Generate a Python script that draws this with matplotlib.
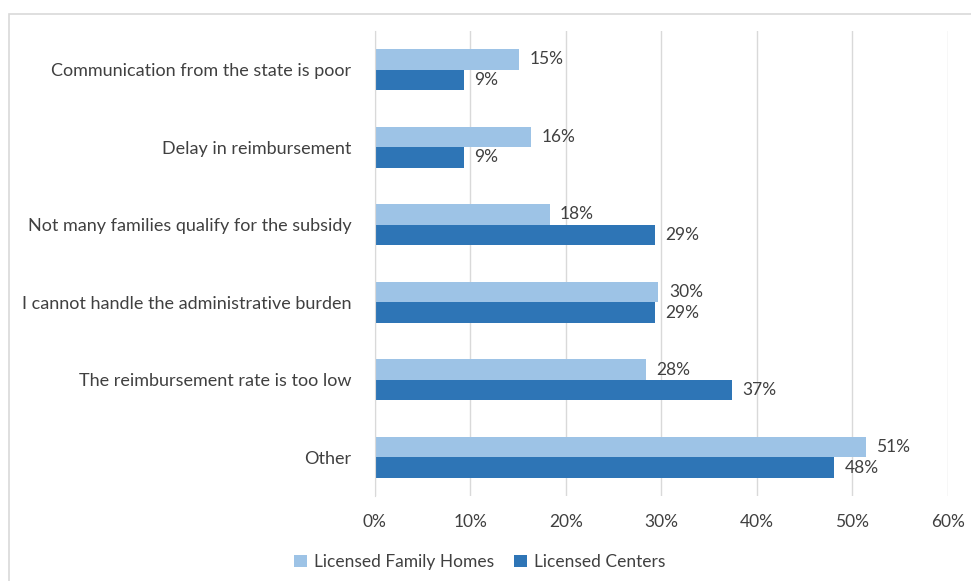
import matplotlib.pyplot as plt
from matplotlib.patches import Rectangle
import numpy as np

categories = [
    "Communication from the state is poor",
    "Delay in reimbursement",
    "Not many families qualify for the subsidy",
    "I cannot handle the administrative burden",
    "The reimbursement rate is too low",
    "Other",
]
family_homes = [15.1, 16.4, 18.3, 29.7, 28.4, 51.4]
centers = [9.3, 9.3, 29.3, 29.3, 37.4, 48.1]
series_names = ["Licensed Family Homes", "Licensed Centers"]
xticks = [0, 10, 20, 30, 40, 50, 60]

light = "#9dc3e6"
dark = "#2e75b6"
text_col = "#404040"

plt.rcParams['font.family'] = ['Lato', 'DejaVu Sans']

fig = plt.figure(figsize=(9.71, 5.81), dpi=100)
ax = fig.add_axes([0.386, 0.146, 0.590, 0.801])

# outer chart border
fig.patches.append(Rectangle((9 / 971, -0.01), 1.0, 1 - 14 / 581 + 0.01,
                             transform=fig.transFigure, fill=False,
                             edgecolor="#d9d9d9", linewidth=1.2))

y = np.arange(len(categories))
h = 0.265
b1 = ax.barh(y - h / 2, family_homes, height=h, color=light, label=series_names[0], zorder=3)
b2 = ax.barh(y + h / 2, centers, height=h, color=dark, label=series_names[1], zorder=3)

for bars in (b1, b2):
    for rect in bars:
        v = rect.get_width()
        ax.text(v + 1.1, rect.get_y() + rect.get_height() / 2, f"{round(v):.0f}%",
                va="center", ha="left", fontsize=12.5, color=text_col)

ax.set_ylim(len(categories) - 0.5, -0.5)
ax.set_xlim(0, 60)
ax.set_yticks(y)
ax.set_yticklabels(categories, fontsize=13, color=text_col)
ax.set_xticks(xticks)
ax.set_xticklabels([f"{t}%" for t in xticks], fontsize=12.5, color=text_col)
ax.tick_params(length=0)
ax.tick_params(axis="y", pad=17)
ax.tick_params(axis="x", pad=13)
ax.grid(axis="x", color="#d9d9d9", linewidth=1, zorder=0)
for s in ["top", "right", "bottom"]:
    ax.spines[s].set_visible(False)
ax.spines["left"].set_color("#d9d9d9")
ax.spines["left"].set_zorder(4)

fig.legend(handles=[b1, b2], labels=series_names, loc="center",
           bbox_to_anchor=(0.494, 0.032), ncol=2, frameon=False,
           fontsize=12.5, labelcolor=text_col, handlelength=0.7,
           handleheight=0.7, handletextpad=0.4, columnspacing=1.2)

fig.savefig("out.png", dpi=100)
